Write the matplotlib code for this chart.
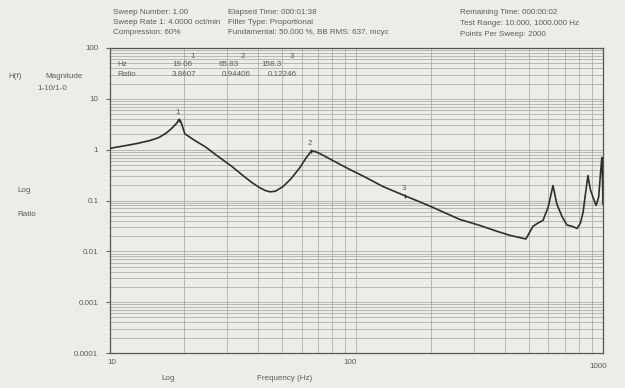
import matplotlib
matplotlib.use("Agg")
import matplotlib.pyplot as plt
from matplotlib.ticker import LogLocator, NullFormatter, FixedLocator, FixedFormatter

plt.rcParams["font.family"] = ["Liberation Sans", "DejaVu Sans"]

# ---- data ----
freq_hz = [10, 11.6, 13.0, 14.5, 15.8, 16.8, 17.6, 18.3, 18.8, 19.06, 19.4, 19.7,
           20.2, 22.0, 24.4, 27.5, 31.4, 35.0, 37.8, 40.5, 42.7, 44.7, 47.0,
           50.5, 54.5, 59.2, 62.5, 65.83, 68.0, 71.3, 82.0, 94.4, 110, 128.4, 158.3,
           180, 204.6, 235, 263, 317, 370, 420, 487,
           505, 520, 545, 571, 600, 627, 650, 682, 714, 750, 785, 810, 830, 850, 869,
           890, 912, 937, 960, 975, 985, 990, 994, 1000]
ratio = [1.06, 1.2, 1.33, 1.5, 1.72, 2.05, 2.45, 2.95, 3.4, 3.86, 3.7, 3.0,
         2.05, 1.55, 1.145, 0.74, 0.464, 0.3, 0.225, 0.18, 0.158, 0.148, 0.152,
         0.188, 0.27, 0.45, 0.68, 0.944, 0.92, 0.835, 0.58, 0.405, 0.28, 0.188, 0.1225,
         0.095, 0.073, 0.054, 0.0424, 0.0323, 0.025, 0.0206, 0.0175,
         0.024, 0.031, 0.036, 0.0405, 0.075, 0.197, 0.085, 0.0486, 0.033, 0.031, 0.0282,
         0.036, 0.058, 0.14, 0.309, 0.16, 0.1145, 0.08, 0.115, 0.3, 0.55, 0.7, 0.4, 0.085]

marker_ids = ["1", "2", "3"]
marker_hz = [19.06, 65.83, 158.3]
marker_ratio = [3.8607, 0.94406, 0.12246]
marker_hz_text = ["19.06", "65.83", "158.3"]
marker_ratio_text = ["3.8607", "0.94406", "0.12246"]

y_ticks = [100, 10, 1, 0.1, 0.01, 0.001, 0.0001]
y_tick_labels = ["100", "10", "1", "0.1", "0.01", "0.001", "0.0001"]
x_ticks = [10, 100, 1000]
x_tick_labels = ["10", "100", "1000"]

header_left = ["Sweep Number: 1.00", "Sweep Rate 1: 4.0000 oct/min", "Compression: 60%"]
header_mid = ["Elapsed Time: 000:01:38", "Filter Type: Proportional",
              "Fundamental: 50.000 %, BB RMS: 637. mcyc"]
header_right = ["Remaining Time: 000:00:02", "Test Range: 10.000, 1000.000 Hz",
                "Points Per Sweep: 2000"]

# ---- figure ----
W, H = 625, 388
paper = "#ececea"
txtc = "#5c5c5c"
FS = 5.8
fig = plt.figure(figsize=(W / 100, H / 100), dpi=100, facecolor=paper)

L, R, T, B = 109.5, 603, 48, 353
ax = fig.add_axes([L / W, 1 - B / H, (R - L) / W, (B - T) / H], facecolor=paper)
ax.set_xscale("log")
ax.set_yscale("log")
ax.set_xlim(10, 1000)
ax.set_ylim(0.0001, 100)

ax.xaxis.set_major_locator(FixedLocator(x_ticks))
ax.xaxis.set_major_formatter(NullFormatter())
ax.xaxis.set_minor_locator(LogLocator(base=10, subs=range(2, 10)))
ax.xaxis.set_minor_formatter(NullFormatter())
ax.yaxis.set_major_locator(FixedLocator(y_ticks))
ax.yaxis.set_major_formatter(FixedFormatter(y_tick_labels))
ax.yaxis.set_minor_locator(LogLocator(base=10, subs=range(2, 10)))
ax.yaxis.set_minor_formatter(NullFormatter())
ax.tick_params(axis="both", which="both", length=0, labelsize=FS, colors=txtc, pad=5)
ax.tick_params(axis="y", which="major", length=3, direction="out", color="#666666")

ax.grid(True, which="both", color="#a2a2a2", lw=0.5)
for s in ax.spines.values():
    s.set_color("#555555")
    s.set_linewidth(0.9)

ax.plot(freq_hz, ratio, color="#2e2e2e", lw=1.2, zorder=3)

# marker numbers on curve
for mid, fx, ry in zip(marker_ids, marker_hz, marker_ratio):
    ax.plot([fx], [ry], marker="|", ms=3, color="#2e2e2e", zorder=4)
    ax.annotate(mid, (fx, ry), xytext=(-1, 3), textcoords="offset points",
                ha="center", va="bottom", fontsize=FS, color=txtc)


def ftxt(x, y, s, **kw):
    kw.setdefault("fontsize", FS)
    kw.setdefault("color", txtc)
    fig.text(x / W, 1 - y / H, s, **kw)


# x tick labels and axis title
ftxt(112, 363, x_tick_labels[0], ha="center", va="center")
ftxt(350, 363, x_tick_labels[1], ha="center", va="center")
ftxt(598, 366, x_tick_labels[2], ha="center", va="center")
ftxt(168, 379, "Log", ha="center", va="center")
ftxt(285, 379, "Frequency (Hz)", ha="center", va="center")

# left labels
ftxt(8, 77, "H(f)", ha="left", va="center")
ftxt(45, 77, "Magnitude", ha="left", va="center")
ftxt(37, 88, "1-10/1-0", ha="left", va="center")
ftxt(17, 190, "Log", ha="left", va="center")
ftxt(17, 214, "Ratio", ha="left", va="center")

# headers
for i, s in enumerate(header_left):
    ftxt(113, 12 + 10.5 * i, s, ha="left", va="center")
for i, s in enumerate(header_mid):
    ftxt(228, 12 + 10.5 * i, s, ha="left", va="center")
for i, s in enumerate(header_right):
    ftxt(460, 13 + 10.5 * i, s, ha="left", va="center")

# marker table
ftxt(117, 64, "Hz", ha="left", va="center")
ftxt(117, 74, "Ratio", ha="left", va="center")
col_hdr_x = [193, 243, 292]
hz_x = [182, 229, 272]
ratio_x = [184, 236, 282]
for i in range(3):
    ftxt(col_hdr_x[i], 56, marker_ids[i], ha="center", va="center")
    ftxt(hz_x[i], 64, marker_hz_text[i], ha="center", va="center")
    ftxt(ratio_x[i], 74, marker_ratio_text[i], ha="center", va="center")

fig.savefig("out.png", dpi=100, facecolor=paper)
